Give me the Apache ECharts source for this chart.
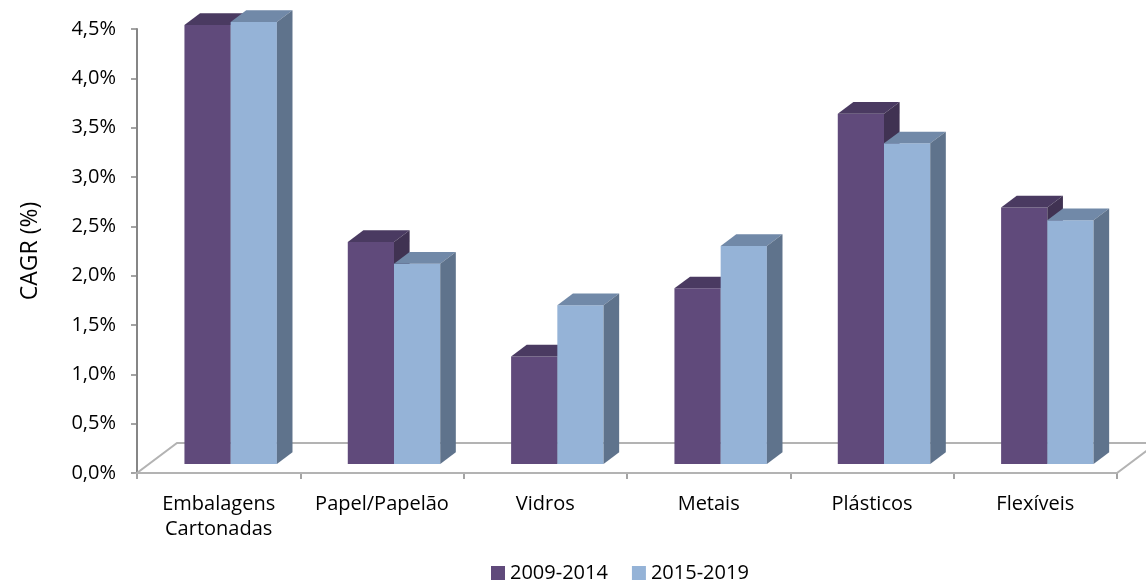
<!DOCTYPE html>
<html>
<head>
<meta charset="utf-8">
<script src="https://cdn.jsdelivr.net/npm/echarts@6/dist/echarts.min.js"></script>
<style>
html,body{margin:0;padding:0;background:#fff;}
#chart{width:1146px;height:581px;}
</style>
</head>
<body>
<div id="chart"></div>
<script>
// ---- data ----
var categories = ['Embalagens\nCartonadas', 'Papel/Papelão', 'Vidros', 'Metais', 'Plásticos', 'Flexíveis'];
var seriesNames = ['2009-2014', '2015-2019'];
var values2009_2014 = [4.45, 2.25, 1.09, 1.78, 3.55, 2.60];
var values2015_2019 = [4.48, 2.03, 1.61, 2.21, 3.25, 2.47];
var yTickLabels = ['0,0%', '0,5%', '1,0%', '1,5%', '2,0%', '2,5%', '3,0%', '3,5%', '4,0%', '4,5%'];

// ---- styling ----
var FONT = 'Open Sans';
var faceColors = [
  {front: '#604A7B', top: '#4A3A61', side: '#403252'},
  {front: '#95B3D7', top: '#7189A8', side: '#5F738C'}
];
var DEPTH_X = 40, DEPTH_Y = -30;      // floor depth vector
var BAR_OFF = 0.30, BAR_DEPTH = 0.39; // bar placement within depth

function barRenderer(sIdx) {
  return function (params, api) {
    var cat = api.value(0), val = api.value(1);
    var catW = api.size([1, 0])[0];
    var base = api.coord([cat, 0]);
    var top = api.coord([cat, val]);
    var w = catW * 0.283;
    var ox = DEPTH_X * BAR_OFF, oy = DEPTH_Y * BAR_OFF;
    var dx = DEPTH_X * BAR_DEPTH, dy = DEPTH_Y * BAR_DEPTH;
    var x0 = base[0] - w + sIdx * w + ox;
    var ty = top[1] + oy, by = base[1] + oy;
    var c = faceColors[sIdx];
    return {
      type: 'group',
      children: [
        {type: 'rect', shape: {x: x0, y: ty, width: w, height: by - ty}, style: {fill: c.front}},
        {type: 'polygon', shape: {points: [[x0, ty], [x0 + w, ty], [x0 + w + dx, ty + dy], [x0 + dx, ty + dy]]}, style: {fill: c.top}},
        {type: 'polygon', shape: {points: [[x0 + w, ty], [x0 + w + dx, ty + dy], [x0 + w + dx, by + dy], [x0 + w, by]]}, style: {fill: c.side}}
      ]
    };
  };
}

function floorRenderer(params, api) {
  var cs = params.coordSys;
  var x0 = cs.x, x1 = cs.x + cs.width, y = cs.y + cs.height;
  return {
    type: 'polygon',
    shape: {points: [[x0, y], [x1, y], [x1 + DEPTH_X, y + DEPTH_Y], [x0 + DEPTH_X, y + DEPTH_Y]]},
    style: {fill: '#ffffff', stroke: '#b3b3b3', lineWidth: 2}
  };
}

var chart = echarts.init(document.getElementById('chart'), null, {renderer: 'canvas'});
chart.setOption({
  animation: false,
  backgroundColor: '#ffffff',
  textStyle: {fontFamily: FONT},
  grid: {left: 137, right: 29, top: 29, bottom: 108, containLabel: false},
  legend: {
    top: 558,
    left: 486,
    itemWidth: 14,
    itemHeight: 14,
    itemGap: 24,
    icon: 'rect',
    textStyle: {fontFamily: FONT, fontSize: 20, color: '#000'},
    data: seriesNames
  },
  xAxis: {
    type: 'category',
    data: categories,
    boundaryGap: true,
    axisLine: {lineStyle: {color: '#868686', width: 2}},
    axisTick: {show: true, length: 6, lineStyle: {color: '#868686', width: 1.5}},
    axisLabel: {fontFamily: FONT, fontSize: 20, color: '#000', margin: 19, lineHeight: 25, interval: 0}
  },
  yAxis: {
    type: 'value',
    min: 0, max: 4.5, interval: 0.5,
    name: 'CAGR (%)',
    nameLocation: 'middle',
    nameRotate: 90,
    nameGap: 95,
    nameTextStyle: {fontFamily: FONT, fontSize: 23, color: '#000'},
    axisLine: {show: true, lineStyle: {color: '#868686', width: 2}},
    axisTick: {show: true, length: 6, lineStyle: {color: '#868686', width: 1.5}},
    splitLine: {show: false},
    axisLabel: {
      fontFamily: FONT, fontSize: 20, color: '#000', margin: 21,
      formatter: function (v) { return yTickLabels[Math.round(v / 0.5)]; }
    }
  },
  series: [
    {
      name: 'floor', type: 'custom', renderItem: floorRenderer,
      data: [[0, 0]], silent: true, z: 1, legendHoverLink: false
    },
    {
      name: seriesNames[0], type: 'custom', renderItem: barRenderer(0),
      itemStyle: {color: faceColors[0].front},
      encode: {x: 0, y: 1},
      data: values2009_2014.map(function (v, i) { return [i, v]; }), z: 3
    },
    {
      name: seriesNames[1], type: 'custom', renderItem: barRenderer(1),
      itemStyle: {color: faceColors[1].front},
      encode: {x: 0, y: 1},
      data: values2015_2019.map(function (v, i) { return [i, v]; }), z: 4
    }
  ]
});
</script>
</body>
</html>
